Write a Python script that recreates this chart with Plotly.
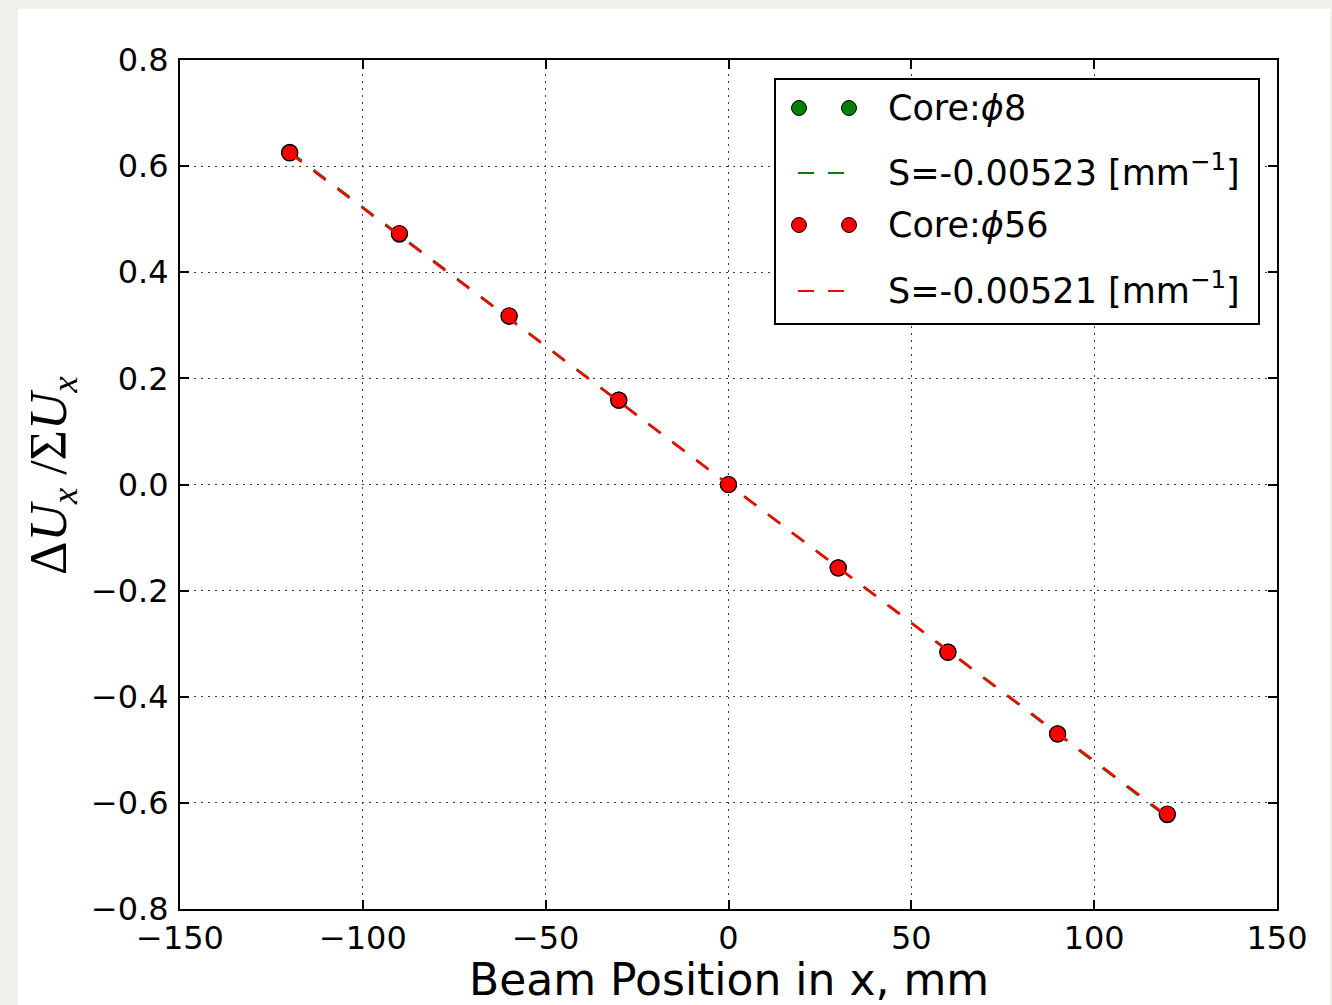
import plotly.graph_objects as go

# ---- data ----
x_pos = [-120, -90, -60, -30, 0, 30, 60, 90, 120]
y_phi8 = [0.626, 0.472, 0.317, 0.159, 0.0, -0.157, -0.316, -0.470, -0.622]
y_phi56 = [0.625, 0.473, 0.318, 0.159, 0.0, -0.157, -0.316, -0.470, -0.621]
fit_x = [-120, 120]
fit_phi8 = [0.627, -0.627]
fit_phi56 = [0.625, -0.625]

x_ticks = [-150, -100, -50, 0, 50, 100, 150]
x_ticklabels = ["\u2212150", "\u2212100", "\u221250", "0", "50", "100", "150"]
y_ticks = [-0.8, -0.6, -0.4, -0.2, 0.0, 0.2, 0.4, 0.6, 0.8]
y_ticklabels = ["\u22120.8", "\u22120.6", "\u22120.4", "\u22120.2", "0.0", "0.2", "0.4", "0.6", "0.8"]

legend_labels = ["Core:<i>\u03d5</i>8",
                 "S=-0.00523 [mm<sup>\u22121</sup>]",
                 "Core:<i>\u03d5</i>56",
                 "S=-0.00521 [mm<sup>\u22121</sup>]"]
green = "#007f00"
red = "#ff0000"

W, H = 1332, 1005
L, R, T, B = 180, 1277, 60, 909

fig = go.Figure()
fig.add_trace(go.Scatter(x=x_pos, y=y_phi8, mode="markers",
                         marker=dict(color=green, size=16, line=dict(color="black", width=1.2)),
                         showlegend=False))
fig.add_trace(go.Scatter(x=fit_x, y=fit_phi8, mode="lines",
                         line=dict(color=green, width=2.5, dash="15px,15px"), showlegend=False))
fig.add_trace(go.Scatter(x=x_pos, y=y_phi56, mode="markers",
                         marker=dict(color=red, size=16, line=dict(color="black", width=1.2)),
                         showlegend=False))
fig.add_trace(go.Scatter(x=fit_x, y=fit_phi56, mode="lines",
                         line=dict(color=red, width=2.5, dash="15px,15px"), showlegend=False))

pw, ph = R - L, B - T
def px(xp):
    return (xp - L) / pw
def py(yp):
    return (B - yp) / ph

shapes = []
annotations = []
# white panel
shapes.append(dict(type="rect", xref="paper", yref="paper", layer="below",
                   x0=px(18), x1=px(1330), y0=py(1010), y1=py(9),
                   fillcolor="white", line=dict(width=0)))
# legend box
shapes.append(dict(type="rect", xref="paper", yref="paper",
                   x0=px(775), x1=px(1259), y0=py(324), y1=py(79),
                   fillcolor="white", line=dict(color="black", width=2)))
rows_y = [108, 170, 225, 288]
for i, yy in enumerate(rows_y):
    if i in (0, 2):
        col = green if i == 0 else red
        for cx in (799, 849):
            shapes.append(dict(type="circle", xref="paper", yref="paper",
                               xsizemode="pixel", ysizemode="pixel",
                               xanchor=px(cx), yanchor=py(yy),
                               x0=-7.5, x1=7.5, y0=-7.5, y1=7.5,
                               fillcolor=col, line=dict(color="black", width=1)))
    else:
        col = green if i == 1 else red
        for (a, b) in ((798, 814), (828, 844)):
            shapes.append(dict(type="line", xref="paper", yref="paper",
                               x0=px(a), x1=px(b), y0=py(yy + 3), y1=py(yy + 3),
                               line=dict(color=col, width=2)))
    annotations.append(dict(xref="paper", yref="paper", x=px(886), y=py(yy),
                            xanchor="left", yanchor="middle", showarrow=False,
                            text=legend_labels[i],
                            font=dict(family="DejaVu Sans", size=35, color="black")))

# axis titles
annotations.append(dict(xref="paper", yref="paper", x=px(729), y=py(980),
                        xanchor="center", yanchor="middle", showarrow=False,
                        text="Beam Position in x, mm",
                        font=dict(family="DejaVu Sans", size=44, color="black")))
annotations.append(dict(xref="paper", yref="paper", x=px(52), y=py(476),
                        xanchor="center", yanchor="middle", showarrow=False, textangle=-90,
                        text="\u0394<i>U</i><sub><i>x</i></sub> /\u03a3<i>U</i><sub><i>x</i></sub>",
                        font=dict(family="Liberation Serif", size=52, color="black")))

axis_common = dict(showline=True, linecolor="black", linewidth=2, mirror="ticks",
                   ticks="inside", ticklen=9, tickwidth=1.5, tickcolor="black",
                   showgrid=True, gridcolor="#3a3a3a", gridwidth=1, griddash="2px,5px",
                   zeroline=False, tickfont=dict(family="DejaVu Sans", size=32, color="black"))

fig.update_layout(
    width=W, height=H,
    margin=dict(l=L, r=W - R, t=T, b=H - B, pad=0),
    paper_bgcolor="#f2f0eb", plot_bgcolor="white",
    xaxis=dict(range=[-150, 150], tickvals=x_ticks, ticktext=x_ticklabels, **axis_common),
    yaxis=dict(range=[-0.8, 0.8], tickvals=y_ticks, ticktext=y_ticklabels,
               ticklabelstandoff=3, **axis_common),
    shapes=shapes, annotations=annotations, showlegend=False,
)
fig.write_html("out.html", config={"displayModeBar": False},
               post_script="document.body.style.margin='0';")
